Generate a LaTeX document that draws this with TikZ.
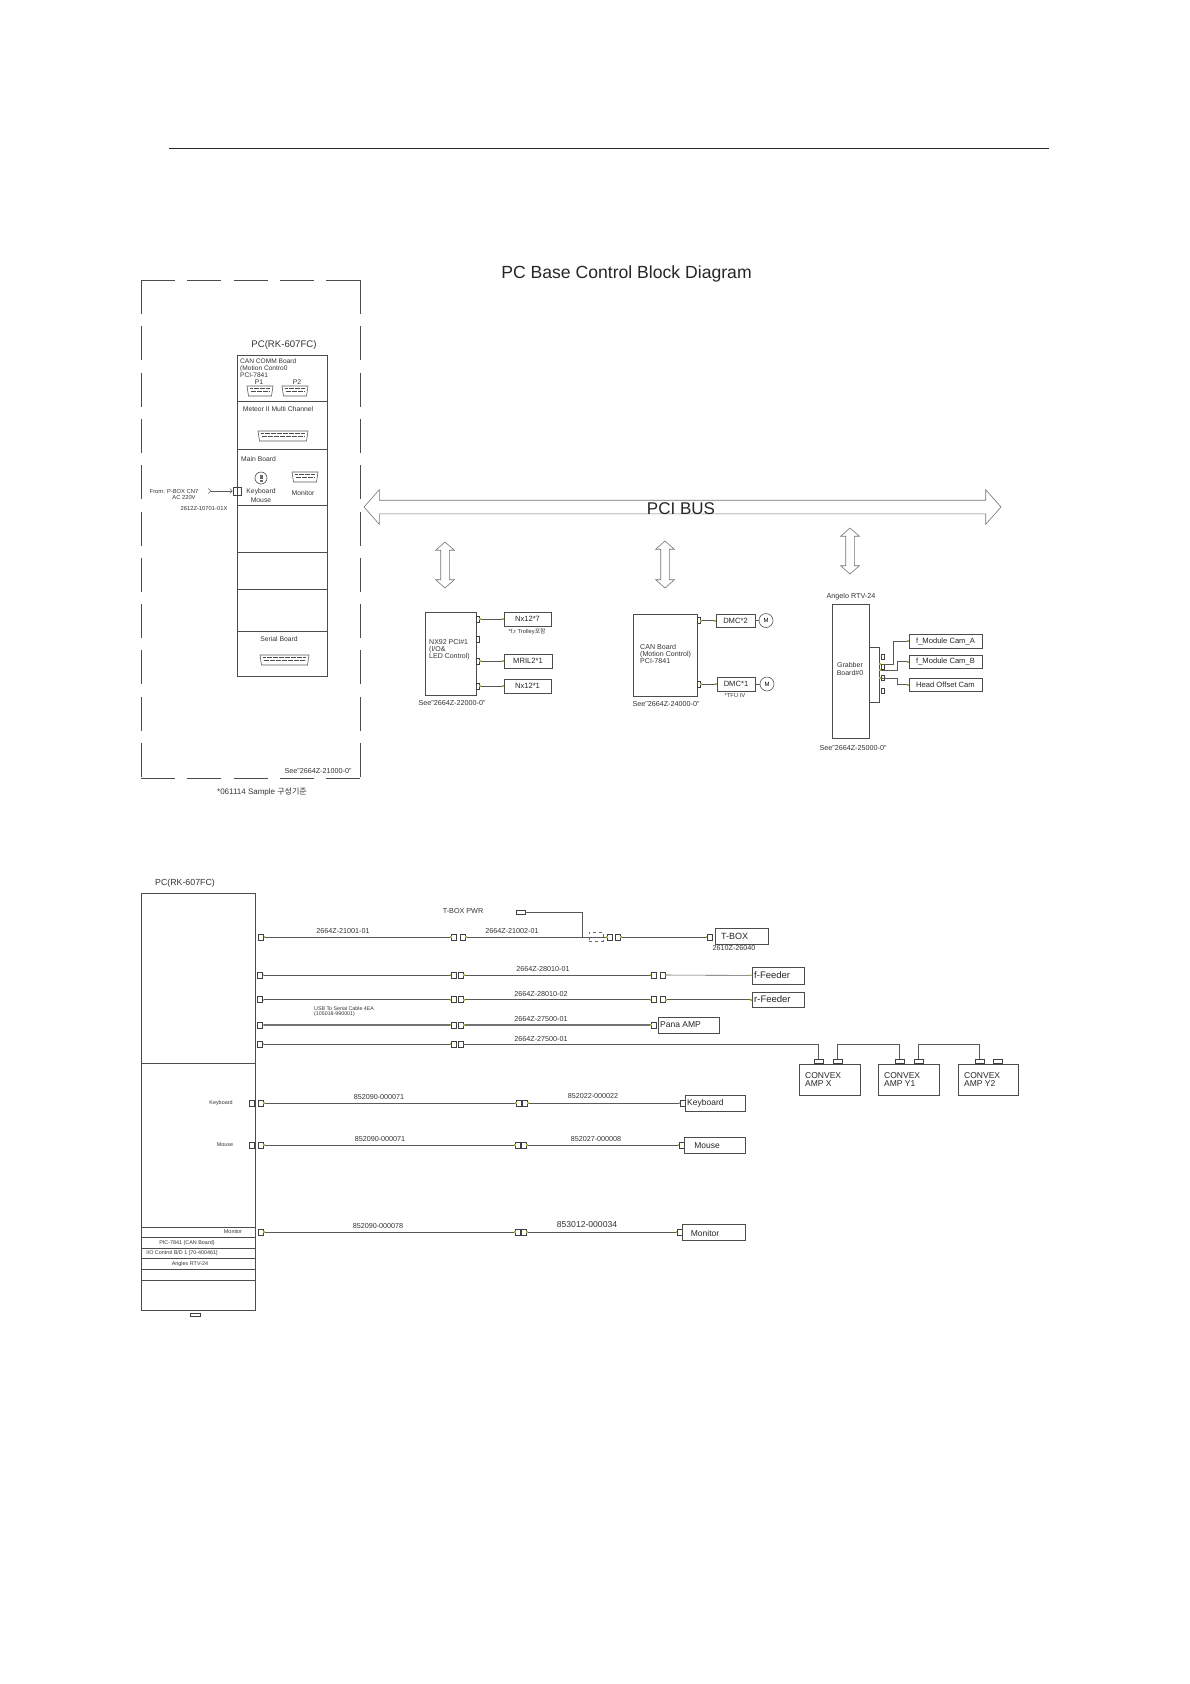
\documentclass[tikz,border=0pt]{standalone}
\usepackage{fontspec}
\setmainfont{Liberation Sans}
\newfontfamily\krfont{Noto Sans CJK KR}
\usetikzlibrary{shapes.arrows, arrows.meta, positioning, calc}

\definecolor{tipolive}{RGB}{175,175,60}
\newcommand{\fsz}[1]{\fontsize{#1}{#1}\selectfont}
\newcommand{\dsub}[4]{%
    \draw [cable] (#1,#3) -- (#2,#3) -- ({#2-1.5},#4) -- ({#1+1.5},#4) -- cycle;
    \draw [line width=1.1pt, black!70, dash pattern=on 0.7pt off 0.5pt] ({#1+3},{#3+2.8}) -- ({#2-3},{#3+2.8});
    \draw [line width=1.1pt, black!70, dash pattern=on 0.7pt off 0.5pt] ({#1+3.5},{#3+5.4}) -- ({#2-3.5},{#3+5.4});
}

\tikzset{
    cable/.style={line width=0.6pt, draw=black!65},
    pincable/.style={cable, {Square[length=1.2pt, width=1.4pt, tipolive]}-{Square[length=1.2pt, width=1.4pt, tipolive]}},
    heavycable/.style={pincable, line width=1.1pt, draw=black!55},
    blk/.style={draw=black!70, line width=0.7pt, rectangle, inner sep=0pt},
    conn/.style={draw=black!75, line width=0.6pt, rectangle, inner sep=0pt, minimum width=5pt, minimum height=6pt},
    flatconn/.style={conn, minimum width=9pt, minimum height=4pt},
    tallconn/.style={conn, minimum width=3.5pt, minimum height=5.5pt},
    busarrow/.style={shape=double arrow, draw=black!55, line width=0.6pt, double arrow tip angle=97},
    lbl/.style={inner sep=0pt, text=black!80, font=\fsz{6.8}},
    partlbl/.style={inner sep=0pt, text=black!80, font=\fsz{7.2}},
    tinylbl/.style={inner sep=0pt, text=black!80, font=\fsz{5.8}},
    sidelbl/.style={inner sep=0pt, text=black!80, font=\fsz{5.4}},
    boxtxt/.style={blk, font=\fsz{7.6}, text=black!85},
    boxlbl/.style={inner sep=0pt, text=black!85, font=\fsz{8.5}, align=left, anchor=west},
    motor/.style={draw=black!65, line width=0.6pt, circle, inner sep=0pt, minimum size=14pt, font=\fsz{6}}
}

\begin{document}
\begin{tikzpicture}[x=1pt, y=-1pt]
    \useasboundingbox (0,0) rectangle (1190,1684);

    \coordinate (ruleleft) at (169,148);
    \coordinate (ruleright) at (1049,148);
    \draw [line width=0.7pt, black!85] (ruleleft) -- (ruleright);
    \node [inner sep=0pt, font=\fsz{17.6}, text=black!85] (title) at (626.5,274) {PC Base Control Block Diagram};

    \node [inner sep=0pt, outer sep=0pt, minimum width=219pt, minimum height=498pt] (pcframe) at (250.5,529) {};
    \foreach \cornera/\cornerb in {north west/north east, north west/south west, north east/south east, south west/south east}
        \draw [line width=0.7pt, black!70, dash pattern=on 34pt off 12.3pt] (pcframe.\cornera) -- (pcframe.\cornerb);
    \node [inner sep=0pt, font=\fsz{9.6}, text=black!80] (pctitle) at (284,345) {PC(RK-607FC)};
    \foreach \secname/\ya/\yb in {seca/355/401, secb/401/449, secc/449/505, secd/505/552, sece/552/589, secf/589/631, secg/631/676}
        \node [blk, minimum width=90pt, minimum height=(\yb-\ya)*1pt] (\secname) at (282,{(\ya+\yb)/2}) {};

    \node [lbl, anchor=west, align=left, font=\fsz{6.6}] (canboardtxt) at (240,368) {CAN COMM Board\\[0.6pt](Motion Contro0\\[0.6pt]PCI-7841};
    \node [lbl] (pone) at (259,382) {P1};
    \node [lbl] (ptwo) at (297,382) {P2};
    \dsub{247}{273}{386}{396}
    \dsub{282}{308}{386}{396}
    \node [lbl] (meteortxt) at (278,409) {Meteor II Multi Channel};
    \dsub{258}{308}{431}{441}
    \node [lbl, anchor=west] (mainboardtxt) at (241,459) {Main Board};
    \node [draw=black!70, line width=0.6pt, circle, minimum size=12pt, inner sep=0pt] (kbport) at (261,478) {};
    \draw [line width=3pt, black!60, dash pattern=on 0.7pt off 0.5pt] ([yshift=-3.5pt]kbport.center) -- ([yshift=3.5pt]kbport.center);
    \node [lbl, align=center] (kbtxt) at (261,495.5) {Keyboard\\[2.2pt]Mouse};
    \dsub{292}{318}{472}{482}
    \node [lbl] (monitortxt) at (303,493) {Monitor};
    \node [lbl] (serialtxt) at (279,639) {Serial Board};
    \dsub{260}{309}{655}{665}
    \node [partlbl] (framesee) at (318,771) {See"2664Z-21000-0"};
    \node [lbl, font=\fsz{8}] (samplenote) at (262,792) {*061114 Sample {\krfont 구성기준}};

    \node [tinylbl] (fromtxt) at (174,491) {From: P-BOX CN7};
    \node [tinylbl] (actxt) at (184,497) {AC 220V};
    \node [tinylbl] (acpart) at (204,508) {2612Z-10701-01X};
    \coordinate (acplug) at (208,491);
    \node [conn, minimum width=4pt, minimum height=8pt] (acpina) at (235,491) {};
    \node [conn, minimum width=4pt, minimum height=8pt] (acpinb) at (239,491) {};
    \draw [cable, {Straight Barb[reversed, length=2.5pt, width=5pt]}-{Straight Barb[length=2.5pt, width=5pt]}] (acplug) -- (acpina);

    \node [busarrow, minimum height=637pt, minimum width=34pt, inner sep=6.5pt, double arrow head extend=10.5pt] (pcibus) at (682.5,507) {};
    \node [inner sep=0pt, font=\fsz{17}, text=black!85] (pcibustxt) at (681,509) {PCI BUS};
    \node [busarrow, rotate=90, minimum height=46pt, minimum width=18pt, inner sep=4pt, double arrow head extend=5pt] (nxlink) at (445,565) {};
    \node [busarrow, rotate=90, minimum height=47pt, minimum width=18pt, inner sep=4pt, double arrow head extend=5pt] (canlink) at (665,564.5) {};
    \node [busarrow, rotate=90, minimum height=46pt, minimum width=18pt, inner sep=4pt, double arrow head extend=5pt] (grablink) at (850,551) {};

    \node [blk, minimum width=51pt, minimum height=83pt] (nxboard) at (450.5,653.5) {};
    \node [lbl, anchor=west, align=left, font=\fsz{7}] (nxtxt) at (429,649.5) {NX92 PCI\#1\\[0.2pt](I/O\&\\[0.2pt]LED Control)};
    \node [partlbl] (nxsee) at (452,703) {See"2664Z-22000-0"};
    \node [conn, minimum width=3pt] (nxpina) at (477.5,619) {};
    \node [conn, minimum width=3pt] (nxpinb) at (477.5,639) {};
    \node [conn, minimum width=3pt] (nxpinc) at (477.5,661) {};
    \node [conn, minimum width=3pt] (nxpind) at (477.5,686) {};
    \node [boxtxt, minimum width=47pt, minimum height=14pt] (nxa) at (527.5,619) {Nx12*7};
    \node [boxtxt, minimum width=48pt, minimum height=14pt] (nxb) at (528,661) {MRIL2*1};
    \node [boxtxt, minimum width=47pt, minimum height=14pt] (nxc) at (527.5,686) {Nx12*1};
    \node [tinylbl] (trolleynote) at (527,632) {*f,r Trolley{\krfont 포함}};
    \draw [pincable] (nxpina) -- (nxa);
    \draw [pincable] (nxpinc) -- (nxb);
    \draw [pincable] (nxpind) -- (nxc);

    \node [blk, minimum width=64pt, minimum height=82pt] (canboard) at (665,655) {};
    \node [lbl, anchor=west, align=left, font=\fsz{7.1}] (cantxt) at (640,654) {CAN Board\\[0.2pt](Motion Control)\\[0.2pt]PCI-7841};
    \node [partlbl] (cansee) at (666,704) {See"2664Z-24000-0"};
    \node [conn, minimum width=3pt] (canpina) at (698.5,620.5) {};
    \node [conn, minimum width=3pt] (canpinb) at (698.5,684) {};
    \node [boxtxt, minimum width=39pt, minimum height=13pt] (dmca) at (735.5,620.5) {DMC*2};
    \node [boxtxt, minimum width=38pt, minimum height=14pt] (dmcb) at (736,684) {DMC*1};
    \node [motor] (motora) at (766,620.5) {M};
    \node [motor] (motorb) at (767,684) {M};
    \node [tinylbl] (tfunote) at (735,695.5) {*TFU IV};
    \draw [pincable] (canpina) -- (dmca);
    \draw [pincable] (canpinb) -- (dmcb);
    \draw [cable] (dmca) -- (motora);
    \draw [cable] (dmcb) -- (motorb);

    \node [partlbl] (angelotxt) at (851,597) {Angelo RTV-24};
    \node [blk, minimum width=37pt, minimum height=134pt] (grabboard) at (850.5,671) {};
    \node [lbl, align=center, font=\fsz{7}] (grabtxt) at (850,669) {Grabber\\[0.2pt]Board\#0};
    \node [blk, minimum width=10pt, minimum height=55pt] (grabstrip) at (874,674.5) {};
    \node [partlbl] (grabsee) at (853,748) {See"2664Z-25000-0"};
    \foreach \pinname/\piny in {grabpina/657, grabpinb/667, grabpinc/678, grabpind/691}
        \node [tallconn] (\pinname) at (883,\piny) {};
    \node [boxtxt, minimum width=73pt, minimum height=14pt] (cama) at (945.5,641) {f\_Module Cam\_A};
    \node [boxtxt, minimum width=73pt, minimum height=13pt] (camb) at (945.5,661.5) {f\_Module Cam\_B};
    \node [boxtxt, minimum width=73pt, minimum height=13pt] (headcam) at (945.5,684.5) {Head Offset Cam};
    \coordinate (grabouta) at (879,664);
    \coordinate (graboutb) at (879,670);
    \coordinate (graboutc) at (879,678);
    \draw [pincable] (grabouta) -- ++(14,0) |- (cama);
    \draw [pincable] (graboutb) -- ++(18,0) |- (camb);
    \draw [pincable] (graboutc) -- ++(18,0) |- (headcam);

    \node [inner sep=0pt, font=\fsz{8.8}, text=black!80] (lowertitle) at (185,883) {PC(RK-607FC)};
    \foreach \secname/\ya/\yb in {lowa/893/1063, lowb/1063/1227, lowc/1227/1237, lowd/1237/1248, lowe/1248/1258.5, lowf/1258.5/1269.5, lowg/1269.5/1280, lowh/1280/1310}
        \node [blk, minimum width=114pt, minimum height=(\yb-\ya)*1pt] (\secname) at (198.7,{(\ya+\yb)/2}) {};
    \node [sidelbl] (lowmonitor) at (233,1232) {Monitor};
    \node [sidelbl] (lowcan) at (187,1243) {PIC-7841 (CAN Board)};
    \node [sidelbl] (lowio) at (182,1253) {I/O Control B/D 1 [70-400461]};
    \node [sidelbl] (lowangelo) at (190,1264) {Angles RTV-24};
    \node [flatconn, minimum width=10pt, minimum height=3pt] (lowfoot) at (195,1315) {};
    \node [sidelbl] (kbside) at (221,1103) {Keyboard};
    \node [sidelbl] (mouseside) at (225,1145) {Mouse};
    \node [conn] (kbinner) at (251.5,1103) {};
    \node [conn] (mouseinner) at (251.5,1145) {};

    \node [conn] (rowapin) at (261,937) {};
    \node [conn] (rowamida) at (454,937) {};
    \node [conn] (rowamidb) at (462.5,937) {};
    \node [conn] (rowaendl) at (610,937) {};
    \node [conn] (rowaendr) at (617.5,937) {};
    \node [conn] (tboxpin) at (709.5,937) {};
    \node [blk, minimum width=53pt, minimum height=16pt] (tbox) at (741.5,936) {};
    \node [boxlbl, font=\fsz{9}] (tboxtxt) at (721,936.5) {T-BOX};
    \node [partlbl] (tboxpart) at (734,948) {2610Z-26040};
    \node [partlbl] (tboxpwr) at (463,911) {T-BOX PWR};
    \node [flatconn] (pwrpin) at (520.5,912) {};
    \coordinate (pwrjoin) at (582,937);
    \node [draw=black!60, line width=0.5pt, dashed, minimum width=14pt, minimum height=9pt, inner sep=0pt] (pwrfuse) at (596,936.5) {};
    \draw [pincable] (rowapin) -- (rowamida);
    \draw [pincable] (rowamidb) -- (rowaendl);
    \draw [pincable] (rowaendr) -- (tboxpin);
    \draw [cable] (pwrpin) -| (pwrjoin);
    \node [partlbl] (rowalabela) at (343,931) {2664Z-21001-01};
    \node [partlbl] (rowalabelb) at (512,931) {2664Z-21002-01};

    \foreach \rowname/\rowy in {b/975, c/999.5, d/1025, e/1044} {
        \node [conn] (row\rowname pin) at (260,\rowy) {};
        \node [conn] (row\rowname mida) at (453.5,\rowy) {};
        \node [conn] (row\rowname midb) at (460.5,\rowy) {};
    }
    \draw [pincable] (rowbpin) -- (rowbmida);
    \draw [pincable] (rowcpin) -- (rowcmida);
    \draw [heavycable] (rowdpin) -- (rowdmida);
    \draw [pincable] (rowepin) -- (rowemida);

    \node [conn] (rowbendl) at (653.5,975) {};
    \node [conn] (rowbendr) at (662.5,975) {};
    \node [blk, minimum width=52pt, minimum height=17pt] (ffeeder) at (778,975.5) {};
    \node [boxlbl, font=\fsz{9.5}] (ffeedertxt) at (754,975) {f-Feeder};
    \node [conn] (rowcendl) at (653.5,999.5) {};
    \node [conn] (rowcendr) at (662.5,999.5) {};
    \node [blk, minimum width=52pt, minimum height=15pt] (rfeeder) at (778,999.5) {};
    \node [boxlbl, font=\fsz{9.5}] (rfeedertxt) at (754,999.5) {r-Feeder};
    \node [conn] (rowdend) at (654,1025) {};
    \node [blk, minimum width=61pt, minimum height=16pt] (panaamp) at (688.5,1025) {};
    \node [boxlbl] (panatxt) at (660,1025) {Pana AMP};
    \draw [pincable] (rowbmidb) -- (rowbendl);
    \draw [pincable] (rowbendr) -- (ffeeder);
    \draw [pincable] (rowcmidb) -- (rowcendl);
    \draw [pincable] (rowcendr) -- (rfeeder);
    \draw [heavycable] (rowdmidb) -- (rowdend);
    \node [partlbl] (rowblabel) at (543,969) {2664Z-28010-01};
    \node [partlbl] (rowclabel) at (541,994) {2664Z-28010-02};
    \node [partlbl] (rowdlabel) at (541,1019) {2664Z-27500-01};
    \node [partlbl] (rowelabel) at (541,1039) {2664Z-27500-01};
    \node [inner sep=0pt, align=left, anchor=west, text=black!80, font=\fsz{5.3}] (usbnote) at (314,1011.5) {USB To Serial Cable 4EA\\[0pt](105018-990001)};

    \foreach \ampname/\ampx/\ampw/\amptxt/\txtx/\pina/\pinb in {ampx/829.5/61/X/805/818.5/837.5, ampya/908.5/61/Y1/884/899.5/918.5, ampyb/988/60/Y2/964/979.5/997.5} {
        \node [blk, minimum width=\ampw pt, minimum height=31pt] (\ampname) at (\ampx,1079.5) {};
        \node [boxlbl] (\ampname txt) at (\txtx,1079.5) {CONVEX\\[0.2pt]AMP \amptxt};
        \node [flatconn] (\ampname pina) at (\pina,1061) {};
        \node [flatconn] (\ampname pinb) at (\pinb,1061) {};
    }
    \draw [cable] (rowemidb) -| (ampxpina);
    \draw [cable] (ampxpinb.north) -- ++(0,-14) -| (ampyapina.north);
    \draw [cable] (ampyapinb.north) -- ++(0,-14) -| (ampybpina.north);

    \foreach \rowname/\rowy/\midl/\endx/\boxx/\boxw/\boxh in {kb/1103/519/682.5/715/60/16, mouse/1145/518/681.5/714.5/61/16, mon/1232/518/679.5/713.5/63/16} {
        \node [conn] (\rowname pin) at (260.5,\rowy) {};
        \node [conn] (\rowname mida) at (\midl,\rowy) {};
        \node [conn] (\rowname midb) at ({\midl+5.5},\rowy) {};
        \node [conn] (\rowname end) at (\endx,\rowy) {};
        \node [blk, minimum width=\boxw pt, minimum height=\boxh pt] (\rowname box) at (\boxx,\rowy) {};
        \draw [pincable] (\rowname pin) -- (\rowname mida);
        \draw [pincable] (\rowname midb) -- (\rowname end);
    }
    \node [boxlbl] (kbboxtxt) at (687,1103) {Keyboard};
    \node [boxlbl, anchor=center] (mouseboxtxt) at (707,1146) {Mouse};
    \node [boxlbl, anchor=center] (monboxtxt) at (705,1233) {Monitor};
    \node [partlbl] (kblabela) at (379,1097) {852090-000071};
    \node [partlbl] (kblabelb) at (593,1096) {852022-000022};
    \node [partlbl] (mouselabela) at (380,1139) {852090-000071};
    \node [partlbl] (mouselabelb) at (596,1139) {852027-000008};
    \node [partlbl] (monlabela) at (378,1226) {852090-000078};
    \node [partlbl, font=\fsz{8.6}] (monlabelb) at (587,1225) {853012-000034};
\end{tikzpicture}
\end{document}
